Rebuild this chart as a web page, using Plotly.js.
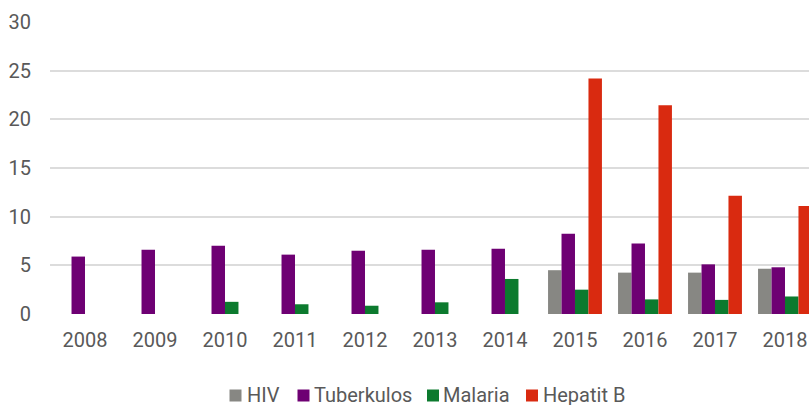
<!DOCTYPE html>
<html>
<head>
<meta charset="utf-8">
<script src="https://cdn.plot.ly/plotly-3.0.1.min.js"></script>
<style>html,body{margin:0;padding:0;background:#fff;}#chart{width:809px;height:405px;}</style>
</head>
<body>
<div id="chart"></div>
<script>
const years = ['2008','2009','2010','2011','2012','2013','2014','2015','2016','2017','2018'];
const seriesNames = ['HIV','Tuberkulos','Malaria','Hepatit B'];
const seriesColors = ['#878783','#6e0073','#0c7a2e','#d92a10'];
const hiv = [null,null,null,null,null,null,null,4.5,4.25,4.25,4.65];
const tuberkulos = [5.9,6.6,7.0,6.1,6.5,6.6,6.7,8.25,7.25,5.1,4.8];
const malaria = [null,null,1.25,1.0,0.85,1.2,3.6,2.5,1.5,1.45,1.8];
const hepatitB = [null,null,null,null,null,null,null,24.2,21.45,12.15,11.1];
const yTicks = [0,5,10,15,20,25,30];

const values = [hiv, tuberkulos, malaria, hepatitB];
const data = seriesNames.map((name, i) => ({
  type: 'bar', name: name, x: years, y: values[i],
  marker: {color: seriesColors[i], line: {width: 0}},
  hoverinfo: 'x+y+name', showlegend: false
}));

// Legend layout (pixel positions in the 809x405 page)
const W = 809, H = 405, mL = 50, mR = 0, mT = 22, mB = 91;
const pw = W - mL - mR, ph = H - mT - mB;
const px2x = p => (p - mL) / pw;
const py2y = p => (H - mB - p) / ph;
const legSquareLeft = [229.5, 297.5, 427, 526];
const legTextLeft = [246.5, 313.5, 443, 542.5];
const legCenterY = 395.5, sq = 12;

const shapes = seriesNames.map((n, i) => ({
  type: 'rect', xref: 'paper', yref: 'paper',
  x0: px2x(legSquareLeft[i]), x1: px2x(legSquareLeft[i] + sq),
  y0: py2y(legCenterY + sq / 2), y1: py2y(legCenterY - sq / 2),
  fillcolor: seriesColors[i], line: {width: 0}
}));
const annotations = seriesNames.map((n, i) => ({
  xref: 'paper', yref: 'paper', x: px2x(legTextLeft[i] - 2), y: py2y(legCenterY - 1),
  xanchor: 'left', yanchor: 'middle', showarrow: false, text: n,
  font: {size: 20, color: '#595959'}
}));

const layout = {
  width: W, height: H,
  margin: {l: mL, r: mR, t: mT, b: mB},
  paper_bgcolor: '#fff', plot_bgcolor: '#fff',
  font: {family: 'Roboto, sans-serif', size: 20, color: '#595959'},
  barmode: 'group', bargap: 0.23, bargroupgap: 0,
  xaxis: {
    type: 'category', range: [-0.5, 10.343], fixedrange: true,
    showgrid: false, zeroline: false, showline: false, ticks: '',
    ticklabelstandoff: 12,
    tickfont: {size: 20, color: '#595959'}
  },
  yaxis: {
    range: [0, 30], tickvals: yTicks, ticktext: yTicks.map(String),
    showgrid: true, gridcolor: '#dcdcdc', gridwidth: 2,
    zeroline: false, showline: false, ticks: '',
    ticklabelstandoff: 18,
    tickfont: {size: 20, color: '#595959'}
  },
  showlegend: false,
  shapes: shapes,
  annotations: annotations
};

Plotly.newPlot('chart', data, layout, {displayModeBar: false, staticPlot: true});
</script>
</body>
</html>
